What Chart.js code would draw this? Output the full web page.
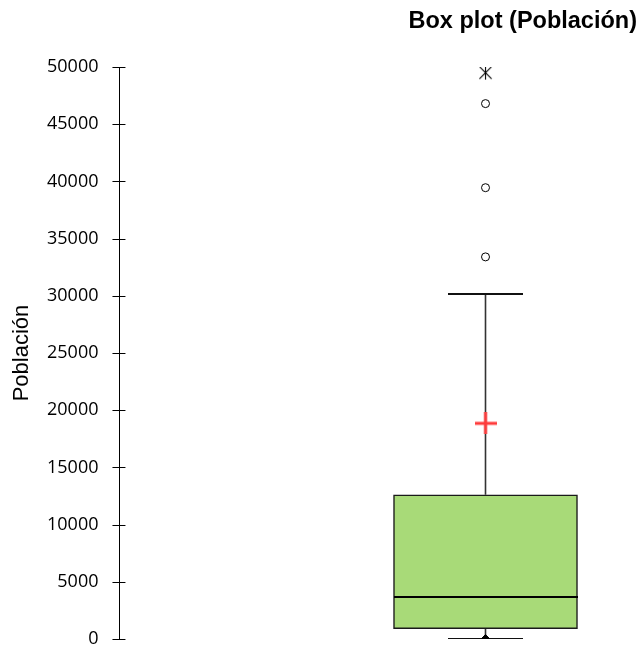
<!DOCTYPE html>
<html>
<head>
<meta charset="utf-8">
<script src="https://cdn.jsdelivr.net/npm/chart.js@4.4.1/dist/chart.umd.min.js"></script>
<style>
  html, body { margin: 0; padding: 0; background: #fff; }
  #wrap { width: 642px; height: 648px; }
</style>
</head>
<body>
<div id="wrap"><canvas id="c" width="642" height="648"></canvas></div>
<script>
// Summary statistics of the "Población" variable
const variableName = 'Población';
const boxStats = { min: 40, q1: 900, median: 3700, q3: 12600, max: 30150, mean: 18850 };
const outlierValues = [33400, 39450, 46800];
const extremeValues = [49500];
const yTicks = [0, 5000, 10000, 15000, 20000, 25000, 30000, 35000, 40000, 45000, 50000];

// horizontal placement of the single box on a hidden 0..1 axis
const boxX = 0.728;

// small canvas helpers for the marker glyphs
function glyph(w, h, draw) {
  const cv = document.createElement('canvas');
  cv.width = w; cv.height = h;
  draw(cv.getContext('2d'), w, h);
  return cv;
}
// six-armed star for extreme values
const starImg = glyph(15, 15, (g, w) => {
  const c = w / 2, r = w / 2 - 0.5, d = r * 0.87;
  g.strokeStyle = '#000';
  g.lineWidth = 1.1;
  g.beginPath();
  g.moveTo(c, c - r); g.lineTo(c, c + r);
  g.moveTo(c - d, c - d); g.lineTo(c + d, c + d);
  g.moveTo(c + d, c - d); g.lineTo(c - d, c + d);
  g.stroke();
});
// red plus for the mean
const meanImg = glyph(22, 22, (g, w, h) => {
  g.fillStyle = '#ff3a3a';
  g.fillRect(0, h / 2 - 1.5, w, 3);
  g.fillRect(w / 2 - 1.5, 0, 3, h);
});
// horizontal bars: median line and whisker caps
const medianImg = glyph(184, 2, (g, w, h) => { g.fillStyle = '#000'; g.fillRect(0, 0, w, h); });
const capImg = glyph(75, 2, (g, w, h) => { g.fillStyle = '#111'; g.fillRect(0, 0, w, h); });

// tick marks crossing the value axis (7px outside, 6px inside)
const crossTicks = {
  id: 'crossTicks',
  afterDraw(chart) {
    const y = chart.scales.y;
    const ctx = chart.ctx;
    const x0 = chart.chartArea.left;
    ctx.save();
    ctx.strokeStyle = '#000';
    ctx.lineWidth = 1;
    y.ticks.forEach(t => {
      const py = Math.round(y.getPixelForValue(t.value)) + 0.5;
      ctx.beginPath();
      ctx.moveTo(x0 - 7, py);
      ctx.lineTo(x0 + 6, py);
      ctx.stroke();
    });
    ctx.restore();
  }
};

const pt = v => ({ x: boxX, y: v });

new Chart(document.getElementById('c'), {
  data: {
    datasets: [
      {
        type: 'bar',
        data: [{ x: boxX, y: [boxStats.q1, boxStats.q3] }],
        backgroundColor: '#a8da78',
        borderColor: '#1a1a1a',
        borderWidth: 1.5,
        borderSkipped: false,
        barThickness: 184,
        order: 5
      },
      {
        type: 'line',
        data: [pt(boxStats.q3), pt(boxStats.max)],
        borderColor: '#333',
        borderWidth: 1.6,
        pointRadius: 0,
        order: 6
      },
      {
        type: 'line',
        data: [pt(boxStats.min), pt(boxStats.q1)],
        borderColor: '#333',
        borderWidth: 1.6,
        pointRadius: 0,
        order: 6
      },
      {
        type: 'scatter',
        data: [pt(boxStats.max), pt(boxStats.min)],
        pointStyle: capImg,
        pointRadius: 1,
        order: 4
      },
      {
        type: 'scatter',
        data: [pt(boxStats.median)],
        pointStyle: medianImg,
        pointRadius: 1,
        order: 3
      },
      {
        type: 'scatter',
        data: [pt(boxStats.min)],
        pointStyle: 'rectRot',
        pointRadius: 4,
        backgroundColor: '#000',
        borderColor: '#000',
        pointBorderWidth: 1,
        order: 2
      },
      {
        type: 'scatter',
        data: [pt(boxStats.mean)],
        pointStyle: meanImg,
        pointRadius: 1,
        order: 1
      },
      {
        type: 'scatter',
        data: outlierValues.map(pt),
        pointStyle: 'circle',
        pointRadius: 4,
        backgroundColor: '#fff',
        borderColor: '#000',
        pointBorderWidth: 1,
        order: 1
      },
      {
        type: 'scatter',
        data: extremeValues.map(pt),
        pointStyle: starImg,
        pointRadius: 1,
        order: 1
      }
    ]
  },
  options: {
    responsive: false,
    animation: false,
    events: [],
    layout: { padding: { left: 0, right: 5, top: 0, bottom: 0 } },
    plugins: {
      legend: { display: false },
      tooltip: { enabled: false },
      title: {
        display: true,
        text: 'Box plot (' + variableName + ')',
        align: 'end',
        color: '#000',
        font: { family: 'Liberation Sans', size: 23.5, weight: 'bold' },
        padding: { top: 7, bottom: 31.8 }
      }
    },
    scales: {
      x: {
        type: 'linear',
        min: 0,
        max: 1,
        display: false
      },
      y: {
        type: 'linear',
        min: 0,
        max: 50000,
        afterBuildTicks(scale) { scale.ticks = yTicks.map(v => ({ value: v })); },
        ticks: {
          color: '#000',
          font: { family: 'Open Sans', size: 18, lineHeight: 1 },
          padding: 0,
          callback: v => String(v)
        },
        grid: { drawOnChartArea: false, drawTicks: true, tickLength: 21, tickColor: 'rgba(0,0,0,0)' },
        border: { color: '#000', width: 1 },
        title: {
          display: true,
          text: variableName,
          color: '#000',
          font: { family: 'Liberation Sans', size: 22 },
          padding: { top: 9, bottom: 11.6 }
        }
      }
    }
  },
  plugins: [crossTicks]
});
</script>
</body>
</html>
